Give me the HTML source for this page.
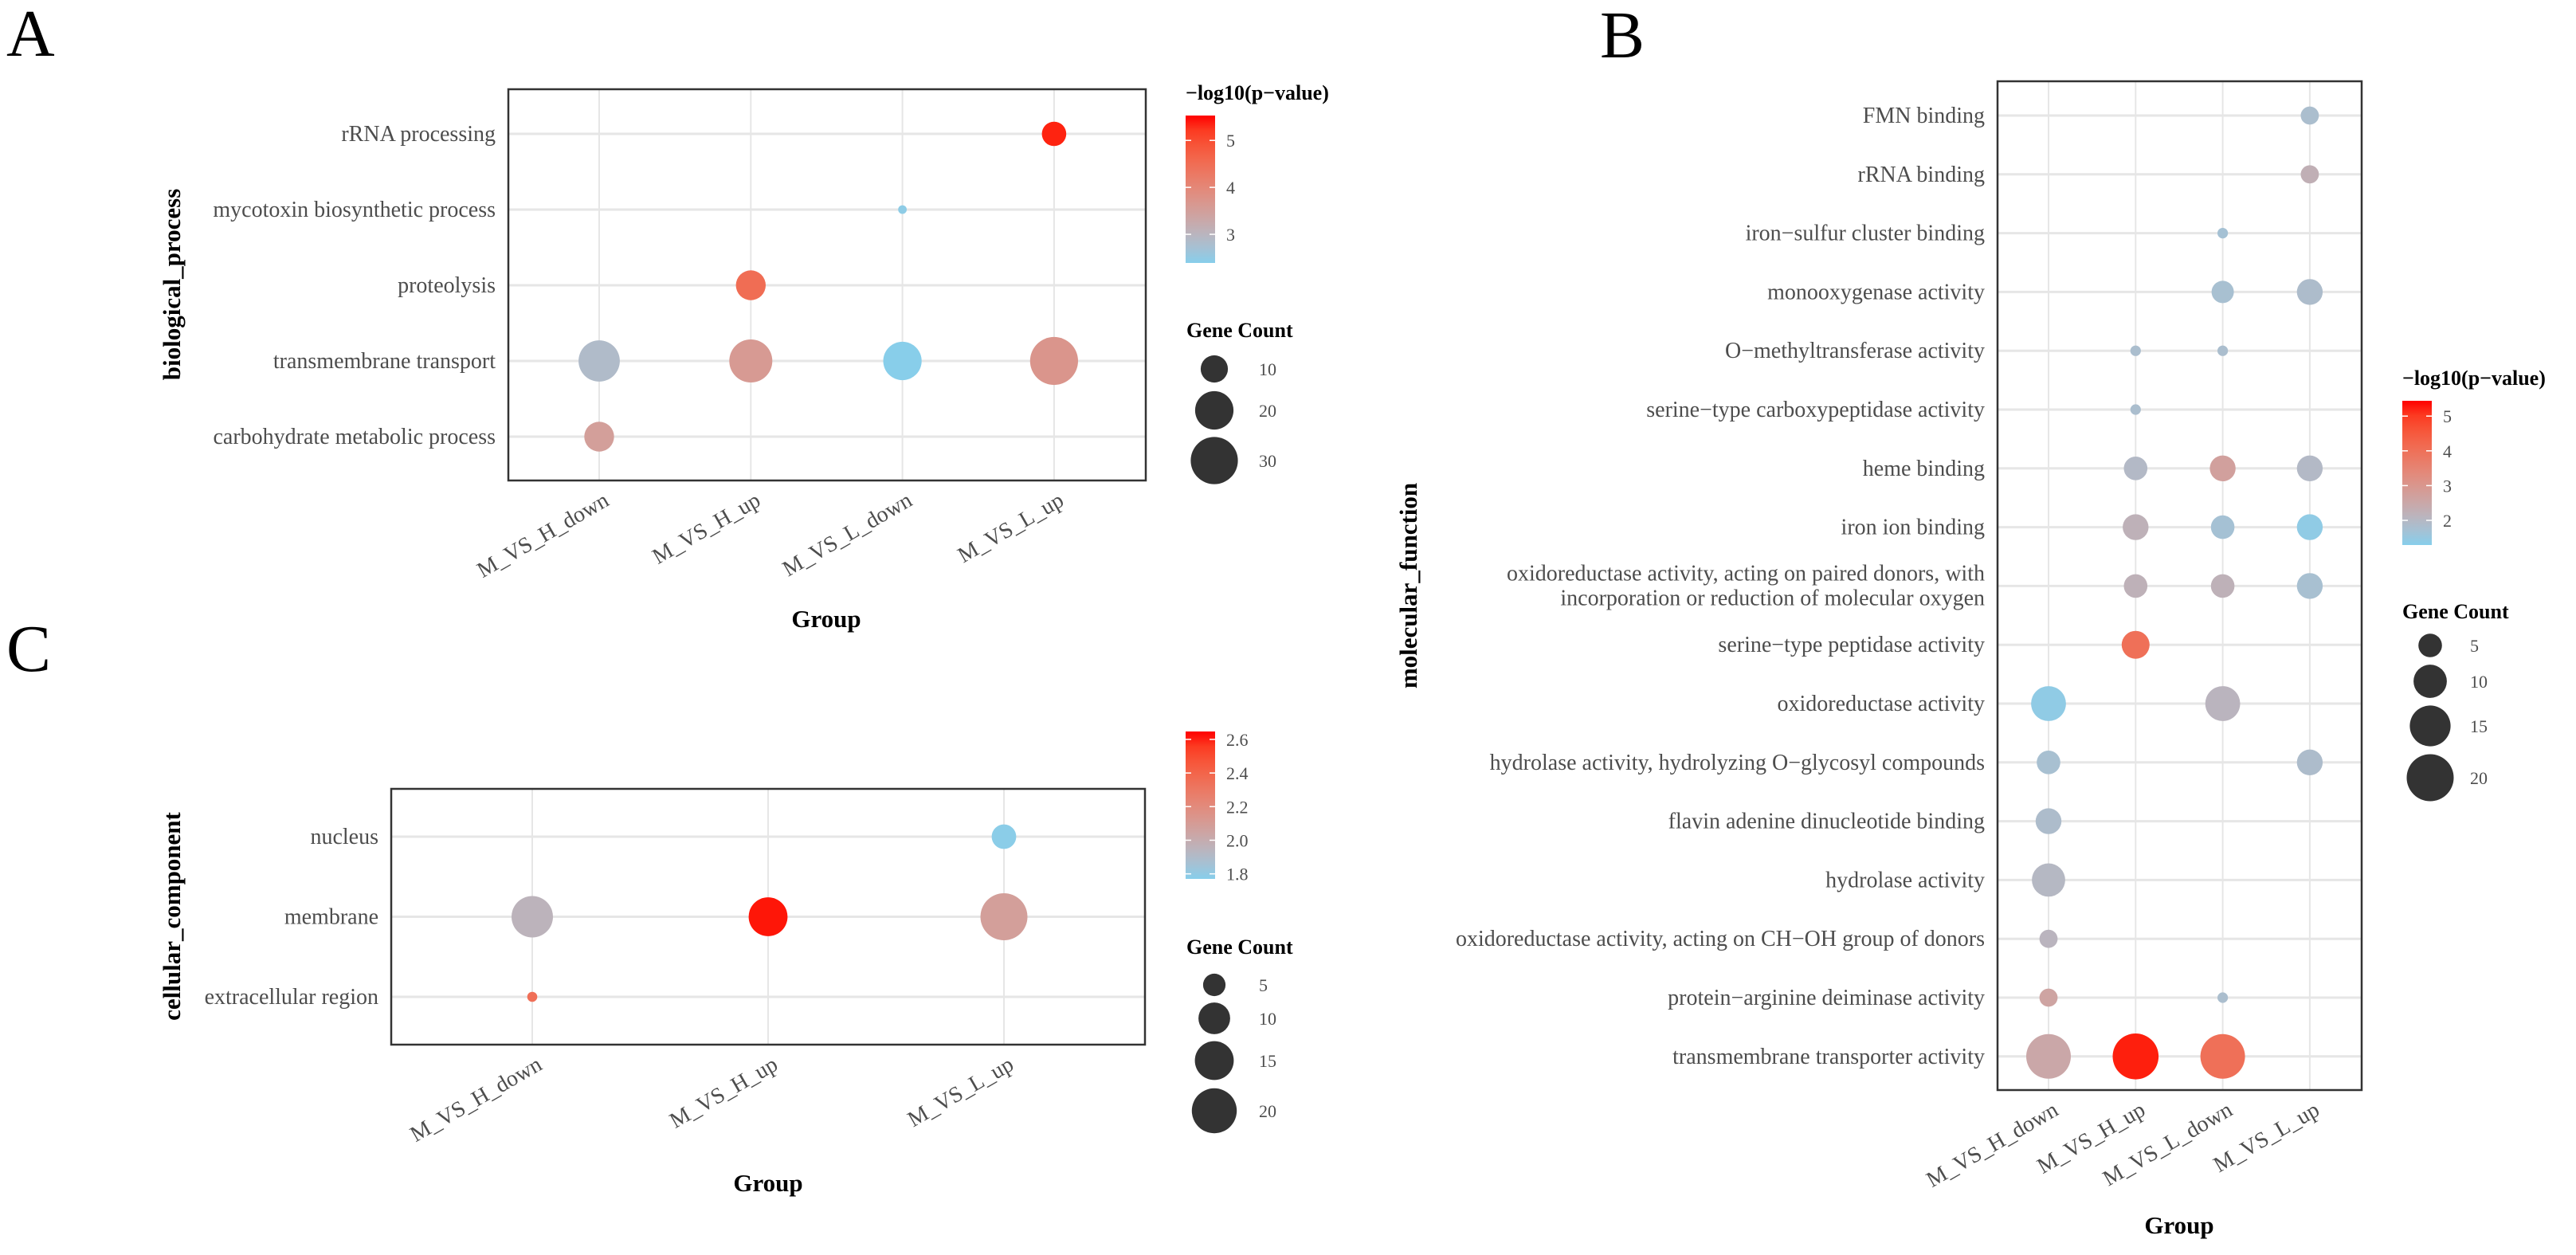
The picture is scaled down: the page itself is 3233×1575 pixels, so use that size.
<!DOCTYPE html>
<html><head><meta charset="utf-8"><style>
html,body{margin:0;padding:0;background:#fff;}
svg{display:block;font-family:"Liberation Serif",serif;}
.tick{fill:#4d4d4d;font-size:28px;}
.ttl{font-weight:bold;font-size:31px;fill:#000;}
.leg{fill:#4d4d4d;font-size:22px;}
.legt{font-weight:bold;font-size:26px;fill:#000;}
</style></head><body>
<svg id="fig" width="3233" height="1575" viewBox="0 0 3233 1575" xmlns="http://www.w3.org/2000/svg">
<defs>
<linearGradient id="gA" x1="0" y1="1" x2="0" y2="0"></linearGradient>
<linearGradient id="gB" x1="0" y1="1" x2="0" y2="0"></linearGradient>
<linearGradient id="gC" x1="0" y1="1" x2="0" y2="0"></linearGradient>
</defs>
<text x="8" y="70" font-size="84">A</text>
<text x="8" y="842" font-size="84">C</text>
<text x="2008" y="72" font-size="84">B</text>
</svg>
<script>
// ---------- Panel A data ----------
const groupsA = ["M_VS_H_down","M_VS_H_up","M_VS_L_down","M_VS_L_up"];
const termsA = ["rRNA processing","mycotoxin biosynthetic process","proteolysis","transmembrane transport","carbohydrate metabolic process"];
const ptsA_term = [0,1,2,3,3,3,3,4];
const ptsA_group = [3,2,1,0,1,2,3,0];
const ptsA_count = [8,1,12,23,25,20,31,12];
const ptsA_logp = [5.4,2.45,4.5,2.85,3.6,2.4,3.7,3.5];
const colTicksA = [3,4,5];
const sizeTicksA = [10,20,30];

// ---------- Panel B data ----------
const groupsB = ["M_VS_H_down","M_VS_H_up","M_VS_L_down","M_VS_L_up"];
const termsB = ["FMN binding","rRNA binding","iron\u2212sulfur cluster binding","monooxygenase activity","O\u2212methyltransferase activity","serine\u2212type carboxypeptidase activity","heme binding","iron ion binding","oxidoreductase activity, acting on paired donors, with|incorporation or reduction of molecular oxygen","serine\u2212type peptidase activity","oxidoreductase activity","hydrolase activity, hydrolyzing O\u2212glycosyl compounds","flavin adenine dinucleotide binding","hydrolase activity","oxidoreductase activity, acting on CH\u2212OH group of donors","protein\u2212arginine deiminase activity","transmembrane transporter activity"];
const ptsB_term  = [0,1,2,3,3,4,4,5,6,6,6,7,7,7,8,8,8,9,10,10,11,11,12,13,14,15,15,16,16,16];
const ptsB_group = [3,3,2,2,3,1,2,1,1,2,3,1,2,3,1,2,3,1,0,2,0,3,0,0,0,0,2,0,1,2];
const ptsB_count = [3,3,1,4.5,6,1,1,1,5,6,6,6,5,6,5,5,6,7,11,11,5,6,6,10,3,3,1,18,19,18];
const ptsB_logp  = [1.8,2.25,1.7,1.75,1.85,1.8,1.8,1.8,1.95,2.7,1.95,2.2,1.7,1.4,2.2,2.2,1.75,4.0,1.4,2.1,1.75,1.85,1.85,2.0,2.1,2.6,1.8,2.5,5.3,4.0];
const colTicksB = [2,3,4,5];
const sizeTicksB = [5,10,15,20];

// ---------- Panel C data ----------
const groupsC = ["M_VS_H_down","M_VS_H_up","M_VS_L_up"];
const termsC = ["nucleus","membrane","extracellular region"];
const ptsC_term  = [0,1,1,1,2];
const ptsC_group = [2,0,1,2,0];
const ptsC_count = [6,17,15,22,1];
const ptsC_logp  = [1.78,1.95,2.63,2.08,2.35];
const colTicksC = [1.8,2.0,2.2,2.4,2.6];
const sizeTicksC = [5,10,15,20];

const NS = "http://www.w3.org/2000/svg";
const svg = document.getElementById("fig");
function mk(tag, attrs, parent){ const e=document.createElementNS(NS,tag); for(const k in attrs) e.setAttribute(k,attrs[k]); (parent||svg).appendChild(e); return e; }

function s2l(c){c/=255;return c<=0.04045?c/12.92:Math.pow((c+0.055)/1.055,2.4);}
function l2s(c){c=c<=0.0031308?12.92*c:1.055*Math.pow(c,1/2.4)-0.055;return Math.max(0,Math.min(255,Math.round(c*255)));}
function toLab(rgb){const r=s2l(rgb[0]),g=s2l(rgb[1]),b=s2l(rgb[2]);
 let x=(0.4124*r+0.3576*g+0.1805*b)/0.95047,y=0.2126*r+0.7152*g+0.0722*b,z=(0.0193*r+0.1192*g+0.9505*b)/1.08883;
 const f=t=>t>0.008856?Math.cbrt(t):7.787*t+16/116; x=f(x);y=f(y);z=f(z);
 return [116*y-16,500*(x-y),200*(y-z)];}
function fromLab(L){let y=(L[0]+16)/116,x=L[1]/500+y,z=y-L[2]/200;
 const fi=t=>t*t*t>0.008856?t*t*t:(t-16/116)/7.787; x=fi(x)*0.95047;y=fi(y);z=fi(z)*1.08883;
 const r=3.2406*x-1.5372*y-0.4986*z,g=-0.9689*x+1.8758*y+0.0415*z,b=0.0557*x-0.2040*y+1.0570*z;
 return "rgb("+l2s(r)+","+l2s(g)+","+l2s(b)+")";}
const LO=toLab([135,206,235]), HI=toLab([255,0,0]);
function colAt(t){t=Math.max(0,Math.min(1,t));return fromLab([LO[0]+(HI[0]-LO[0])*t,LO[1]+(HI[1]-LO[1])*t,LO[2]+(HI[2]-LO[2])*t]);}
function fillGrad(id){const g=document.getElementById(id);for(let i=0;i<=10;i++){mk("stop",{offset:(i*10)+"%","stop-color":colAt(i/10)},g);}}
fillGrad("gA");fillGrad("gB");fillGrad("gC");

function panel(cfg){
  const {x0,x1,y0,y1,groups,terms,colX,rowY,tIdx,gIdx,cnt,lp,cmin,cmax,rk,name}=cfg;
  const xs=i=>colX[0]+(colX[1]-colX[0])*i;
  const ys=i=>rowY[0]+(rowY[1]-rowY[0])*i;
  terms.forEach((t,i)=>{const l=mk("line",{x1:x0,x2:x1,y1:ys(i),y2:ys(i),stroke:"#e6e6e6","stroke-width":3});
    
    });
  groups.forEach((g,i)=>{const l=mk("line",{x1:xs(i),x2:xs(i),y1:y0,y2:y1,stroke:"#e6e6e6","stroke-width":2});
    
    });
  for(let k=0;k<tIdx.length;k++){
    const c=mk("circle",{cx:xs(gIdx[k]),cy:ys(tIdx[k]),r:(rk*Math.sqrt(cnt[k])).toFixed(1),fill:colAt((lp[k]-cmin)/(cmax-cmin))});
    
    
  }
  const b=mk("rect",{x:x0,y:y0,width:x1-x0,height:y1-y0,fill:"none",stroke:"#333","stroke-width":2.5});
  
  
  terms.forEach((t,i)=>{
    const parts=t.split("|");
    const tx=mk("text",{x:x0-16,"text-anchor":"end",class:"tick"});
    
    
    if(parts.length===1){tx.setAttribute("y",ys(i)+9);tx.textContent=t;}
    else{tx.setAttribute("y",ys(i)-7);parts.forEach((p,j)=>{const s=mk("tspan",{x:x0-16,dy:j?31:0},tx);s.textContent=p;});}
  });
  groups.forEach((g,i)=>{
    const tx=mk("text",{x:0,y:0,"text-anchor":"end",class:"tick",transform:"translate("+(xs(i)+14)+","+(y1+30)+") rotate(-30)"});
    
    
    tx.textContent=g;
  });
}

function colorLegend(cfg){
  const {x,yTop,yBot,vmin,vmax,ticks,grad,title,name,fmt}=cfg;
  if(title){const t=mk("text",{x:x,y:yTop-20,class:"legt"});t.textContent=title;
    
    }
  const r=mk("rect",{x:x,y:yTop,width:37,height:yBot-yTop,fill:"url(#"+grad+")"});
  
  
  ticks.forEach(v=>{const yy=yBot-(v-vmin)/(vmax-vmin)*(yBot-yTop);
    mk("line",{x1:x,x2:x+7,y1:yy,y2:yy,stroke:"#fff","stroke-width":1.5});
    mk("line",{x1:x+30,x2:x+37,y1:yy,y2:yy,stroke:"#fff","stroke-width":1.5});
    const t=mk("text",{x:x+51,y:yy+8,class:"leg"});t.textContent=fmt?v.toFixed(1):String(v);
    
    });
}
function sizeLegend(cfg){
  const {x,titleY,ys,vals,rk,name,lx}=cfg;
  const t=mk("text",{x:x,y:titleY,class:"legt"});t.textContent="Gene Count";
  
  
  vals.forEach((v,i)=>{const c=mk("circle",{cx:x+35,cy:ys[i],r:(rk*Math.sqrt(v)).toFixed(1),fill:"#333"});
    
    
    const l=mk("text",{x:lx,y:ys[i]+8,class:"leg"});l.textContent=v;
    
    });
}
function axisTitles(name,yt,yx,yc,gx,gy){
  const a=mk("text",{x:0,y:0,"text-anchor":"middle",class:"ttl",transform:"translate("+yx+","+yc+") rotate(-90)"});a.textContent=yt;
  
  
  const g=mk("text",{x:gx,y:gy,"text-anchor":"middle",class:"ttl"});g.textContent="Group";
  
  
}

// Panel A
panel({x0:638,x1:1438,y0:112,y1:603,groups:groupsA,terms:termsA,colX:[752,942.3],rowY:[168,263],tIdx:ptsA_term,gIdx:ptsA_group,cnt:ptsA_count,lp:ptsA_logp,cmin:2.39,cmax:5.53,rk:5.4,name:"bp"});
colorLegend({x:1488,yTop:145,yBot:330,vmin:2.39,vmax:5.53,ticks:colTicksA,grad:"gA",title:"\u2212log10(p\u2212value)",name:"bp"});
sizeLegend({x:1489,titleY:423,ys:[463,515,578],vals:sizeTicksA,rk:5.4,name:"bp",lx:1580});
axisTitles("bp","biological_process",226,357,1037,787);

// Panel C
panel({x0:491,x1:1437,y0:990,y1:1311,groups:groupsC,terms:termsC,colX:[668,964],rowY:[1050,1150.5],tIdx:ptsC_term,gIdx:ptsC_group,cnt:ptsC_count,lp:ptsC_logp,cmin:1.77,cmax:2.647,rk:6.3,name:"cc"});
colorLegend({x:1488,yTop:918,yBot:1103,vmin:1.77,vmax:2.647,ticks:colTicksC,grad:"gC",title:"",name:"cc",fmt:true});
sizeLegend({x:1489,titleY:1197,ys:[1236,1278,1331,1394],vals:sizeTicksC,rk:6.3,name:"cc",lx:1580});
axisTitles("cc","cellular_component",226,1150,964,1495);

// Panel B
panel({x0:2507,x1:2964,y0:102,y1:1368,groups:groupsB,terms:termsB,colX:[2571,2680.3],rowY:[145,218.8],tIdx:ptsB_term,gIdx:ptsB_group,cnt:ptsB_count,lp:ptsB_logp,cmin:1.29,cmax:5.44,rk:6.6,name:"mf"});
colorLegend({x:3015,yTop:503,yBot:684,vmin:1.29,vmax:5.44,ticks:colTicksB,grad:"gB",title:"\u2212log10(p\u2212value)",name:"mf"});
sizeLegend({x:3015,titleY:776,ys:[810,855,911,976],vals:sizeTicksB,rk:6.6,name:"mf",lx:3100});
axisTitles("mf","molecular_function",1778,735,2735,1548);
</script>
</body></html>
